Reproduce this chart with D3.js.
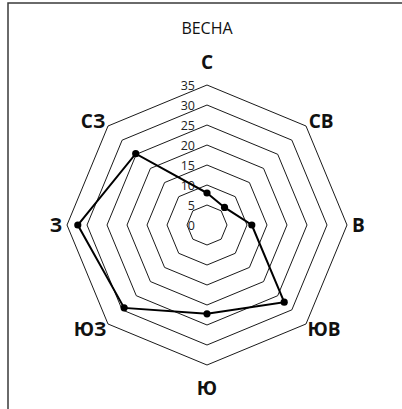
<!DOCTYPE html>
<html><head><meta charset="utf-8">
<script src="https://cdn.jsdelivr.net/npm/d3@7"></script>
<style>
html,body{margin:0;padding:0;background:#fff;}
svg{display:block;font-family:"Open Sans", "Noto Sans", sans-serif;}
</style></head>
<body>
<svg id="chart" width="402" height="409"></svg>
<script>
const title = "ВЕСНА";
const directions = ["С","СВ","В","ЮВ","Ю","ЮЗ","З","СЗ"];
const values = [8, 6.2, 11.2, 27.3, 22.2, 29.3, 32.3, 25.2];
const ticks = [0,5,10,15,20,25,30,35];

const W = 402, H = 409;
const cx = 207, cy = 225;
const svg = d3.select("#chart");

// outer border (chart area, clipped by window)
svg.append("rect").attr("x",8).attr("y",3).attr("width",W).attr("height",H)
  .attr("fill","none").attr("stroke","#3a3a3a").attr("stroke-width",1.5);

const r = d3.scaleLinear().domain([0,35]).range([0,140]);
const ang = d3.scalePoint().domain(directions).range([0, 2*Math.PI*(directions.length-1)/directions.length]);
const pt = (d,v)=>[cx+Math.sin(ang(d))*r(v), cy-Math.cos(ang(d))*r(v)];

// rings
const rings = svg.append("g");
ticks.filter(t=>t>0).forEach(t=>{
  rings.append("path")
    .attr("d", d3.line()(directions.map(d=>pt(d,t)).concat([pt(directions[0],t)])))
    .attr("fill","none").attr("stroke","#000").attr("stroke-width",0.9);
});

// tick labels
svg.append("g").selectAll("text").data(ticks).join("text")
  .attr("x", cx-12).attr("y", t=>cy - r(t))
  .attr("text-anchor","end").attr("dominant-baseline","central")
  .attr("font-size",12.5).attr("fill","#222")
  .text(t=>t);

// data
const pts = directions.map((d,i)=>pt(d,values[i]));
svg.append("path").attr("d", d3.line()(pts.concat([pts[0]])))
  .attr("fill","none").attr("stroke","#000").attr("stroke-width",2);
svg.append("g").selectAll("circle").data(pts).join("circle")
  .attr("cx",p=>p[0]).attr("cy",p=>p[1]).attr("r",3.6).attr("fill","#000");

// category labels
const lab = svg.append("g").selectAll("text").data(directions).join("text")
  .attr("font-size",19).attr("font-weight","bold").attr("fill","#111")
  .attr("text-anchor","middle").attr("dominant-baseline","central")
  .text(d=>d);
lab.each(function(d){
  const w = this.getBBox().width;
  const a = ang(d), s = Math.sin(a), c = Math.cos(a);
  const diag = Math.abs(s) > 0.1 && Math.abs(c) > 0.1;
  const x = cx + s*145 + s*(w/2 + (diag?4:0));
  const y = cy - c*145 - c*(diag?2:18);
  d3.select(this).attr("x",x).attr("y",y);
});

// title
svg.append("text").attr("x",cx).attr("y",28).attr("text-anchor","middle")
  .attr("dominant-baseline","central").attr("font-size",16).attr("fill","#111").text(title);
</script>
</body></html>
